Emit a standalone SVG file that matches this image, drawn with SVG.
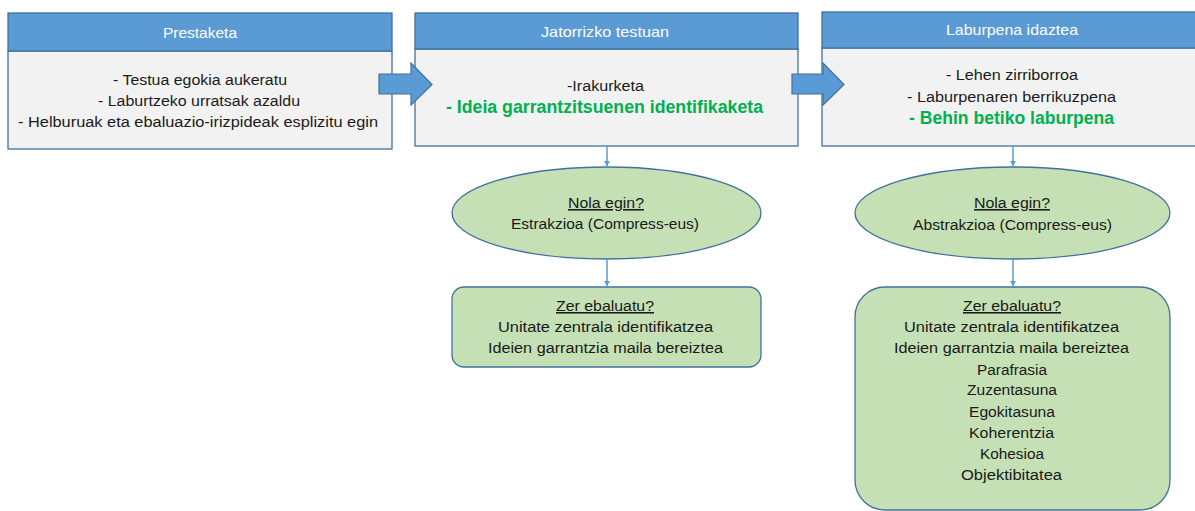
<svg xmlns="http://www.w3.org/2000/svg" width="1195" height="511" viewBox="0 0 1195 511">
<style>
.hdr{fill:#5B9BD5;stroke:#41719C;stroke-width:1.3}
.body{fill:#F2F2F2;stroke:#41719C;stroke-width:1.3}
.green{fill:#C5E0B4;stroke:#41719C;stroke-width:1.3}
.blk{fill:#5B9BD5;stroke:#41719C;stroke-width:1.2}
.con{stroke:#5B9BD5;stroke-width:1.5;fill:none}
text{font-family:"Liberation Sans",Arial,sans-serif;font-size:15.5px;fill:#1a1a1a;text-anchor:middle}
.ht{fill:#ffffff;font-size:15px}
.gt{fill:#00B050;font-weight:bold;font-size:17.5px}
.u{text-decoration:underline}
</style>
<defs>
<marker id="ah" markerWidth="6" markerHeight="6" refX="5" refY="3" orient="auto" markerUnits="userSpaceOnUse">
<path d="M0,0 L5,3 L0,6 Z" fill="#5B9BD5"/>
</marker>
</defs>
<rect width="1195" height="511" fill="#ffffff"/>
<g id="prestaketa">
<rect class="body" x="8" y="51" width="384" height="98"/>
<rect class="hdr" x="8" y="13" width="384" height="38"/>
<text class="ht" x="200" y="38" textLength="74" lengthAdjust="spacingAndGlyphs">Prestaketa</text>
<text x="200" y="85" textLength="174" lengthAdjust="spacingAndGlyphs">- Testua egokia aukeratu</text>
<text x="199" y="106" textLength="202" lengthAdjust="spacingAndGlyphs">- Laburtzeko urratsak azaldu</text>
<text x="198" y="127" textLength="360" lengthAdjust="spacingAndGlyphs">- Helburuak eta ebaluazio-irizpideak esplizitu egin</text>
</g>
<g id="jatorrizko">
<rect class="body" x="415" y="49" width="383" height="97"/>
<rect class="hdr" x="415" y="13" width="383" height="36"/>
<text class="ht" x="605" y="37" textLength="128" lengthAdjust="spacingAndGlyphs">Jatorrizko testuan</text>
<text x="605.5" y="91" textLength="77" lengthAdjust="spacingAndGlyphs">-Irakurketa</text>
<text class="gt" x="604.5" y="113" textLength="317" lengthAdjust="spacingAndGlyphs">- Ideia garrantzitsuenen identifikaketa</text>
</g>
<g id="laburpena">
<rect class="body" x="822" y="48" width="380" height="98"/>
<rect class="hdr" x="822" y="12" width="380" height="36"/>
<text class="ht" x="1012" y="35" textLength="132" lengthAdjust="spacingAndGlyphs">Laburpena idaztea</text>
<text x="1012" y="80" textLength="132" lengthAdjust="spacingAndGlyphs">- Lehen zirriborroa</text>
<text x="1011.5" y="102" textLength="209" lengthAdjust="spacingAndGlyphs">- Laburpenaren berrikuzpena</text>
<text class="gt" x="1011.5" y="124" textLength="205" lengthAdjust="spacingAndGlyphs">- Behin betiko laburpena</text>
</g>
<g id="arrow1">
<path class="blk" d="M379,74 L411,74 L411,63 L432,84.5 L411,105 L411,94 L379,94 Z"/>
</g>
<g id="arrow2">
<path class="blk" d="M792,74 L823,74 L823,63 L844,84.5 L823,105 L823,94 L792,94 Z"/>
</g>
<g id="nola1">
<ellipse class="green" cx="606.5" cy="213" rx="154.5" ry="46"/>
<text class="u" x="606" y="208" textLength="76" lengthAdjust="spacingAndGlyphs">Nola egin?</text>
<text x="605" y="229" textLength="188" lengthAdjust="spacingAndGlyphs">Estrakzioa (Compress-eus)</text>
</g>
<g id="zer1">
<rect class="green" x="452" y="287" width="309" height="80" rx="12"/>
<text class="u" x="605" y="311" textLength="98" lengthAdjust="spacingAndGlyphs">Zer ebaluatu?</text>
<text x="605.5" y="332" textLength="215" lengthAdjust="spacingAndGlyphs">Unitate zentrala identifikatzea</text>
<text x="605.5" y="353" textLength="235" lengthAdjust="spacingAndGlyphs">Ideien garrantzia maila bereiztea</text>
</g>
<g id="nola2">
<ellipse class="green" cx="1012.5" cy="213" rx="157.5" ry="46"/>
<text class="u" x="1012" y="208" textLength="76" lengthAdjust="spacingAndGlyphs">Nola egin?</text>
<text x="1012.5" y="230" textLength="199" lengthAdjust="spacingAndGlyphs">Abstrakzioa (Compress-eus)</text>
</g>
<g id="zer2">
<rect class="green" x="855" y="287" width="315" height="223" rx="30"/>
<text class="u" x="1012" y="311" textLength="98" lengthAdjust="spacingAndGlyphs">Zer ebaluatu?</text>
<text x="1011.5" y="332" textLength="215" lengthAdjust="spacingAndGlyphs">Unitate zentrala identifikatzea</text>
<text x="1011.5" y="353" textLength="235" lengthAdjust="spacingAndGlyphs">Ideien garrantzia maila bereiztea</text>
<text x="1012" y="375" textLength="70" lengthAdjust="spacingAndGlyphs">Parafrasia</text>
<text x="1012" y="395" textLength="90" lengthAdjust="spacingAndGlyphs">Zuzentasuna</text>
<text x="1012" y="417" textLength="86" lengthAdjust="spacingAndGlyphs">Egokitasuna</text>
<text x="1011.5" y="438" textLength="85" lengthAdjust="spacingAndGlyphs">Koherentzia</text>
<text x="1012" y="459" textLength="64" lengthAdjust="spacingAndGlyphs">Kohesioa</text>
<text x="1011.5" y="480" textLength="101" lengthAdjust="spacingAndGlyphs">Objektibitatea</text>
</g>
<g id="connectors">
<line class="con" x1="607" y1="146" x2="607" y2="166" marker-end="url(#ah)"/>
<line class="con" x1="607" y1="259" x2="607" y2="286" marker-end="url(#ah)"/>
<line class="con" x1="1013" y1="146" x2="1013" y2="166" marker-end="url(#ah)"/>
<line class="con" x1="1013" y1="259" x2="1013" y2="286" marker-end="url(#ah)"/>
</g>
</svg>
